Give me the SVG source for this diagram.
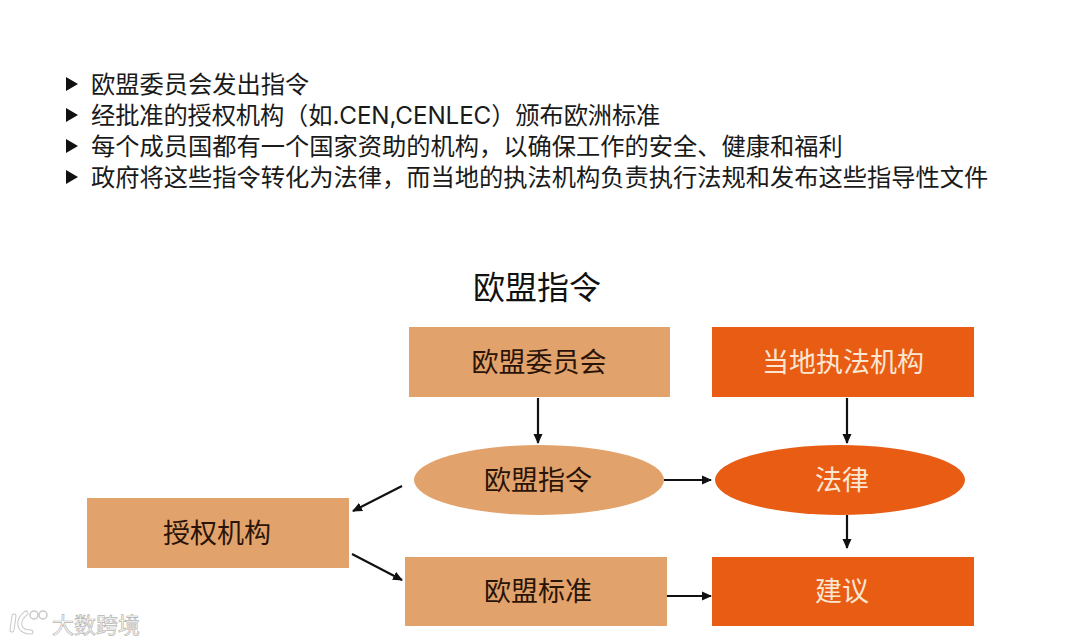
<svg xmlns="http://www.w3.org/2000/svg" width="1080" height="644" viewBox="0 0 1080 644">
<style>
text{font-family:"Noto Sans CJK SC","Noto Sans",sans-serif}
.b{font-family:Inter,"Noto Sans CJK SC",sans-serif;font-size:24.25px;fill:#1a1a1a}
.n{font-size:27px;text-anchor:middle;dominant-baseline:central}
.d{fill:#2a1408}
.l{fill:#fbe6d2}
.tan{fill:#e2a26b}
.org{fill:#e85c14}
.c{stroke:#111;stroke-width:2.2;fill:none;marker-end:url(#a)}
.w{fill:none;stroke:#c8c8c8;stroke-width:5;stroke-linecap:round}
.w2{fill:none;stroke:#fff;stroke-width:3;stroke-linecap:round}
</style>
<defs><marker id="a" markerUnits="userSpaceOnUse" markerWidth="10" markerHeight="10" refX="9" refY="5" orient="auto"><path d="M0 0.5L10 5L0 9.5Z" fill="#111"/></marker></defs>
<rect width="1080" height="644" fill="#fff"/>
<g id="bullets">
<path d="M66 77L78 84L66 91ZM66 108L78 115L66 122ZM66 139L78 146L66 153ZM66 170L78 177L66 184Z" fill="#111"/>
<text class="b" x="91" y="93">欧盟委员会发出指令</text>
<text class="b" x="91" y="124" letter-spacing="-0.11">经批准的授权机构（如.CEN,CENLEC）颁布欧洲标准</text>
<text class="b" x="91" y="155">每个成员国都有一个国家资助的机构，以确保工作的安全、健康和福利</text>
<text class="b" x="91" y="186">政府将这些指令转化为法律，而当地的执法机构负责执行法规和发布这些指导性文件</text>
</g>
<text x="537" y="285" font-size="32" text-anchor="middle" dominant-baseline="central" fill="#111">欧盟指令</text>
<g id="n-commission"><rect class="tan" x="409" y="327" width="261" height="70"/><text class="n d" x="539" y="360">欧盟委员会</text></g>
<g id="n-local"><rect class="org" x="712" y="327" width="262" height="70"/><text class="n l" x="843" y="360">当地执法机构</text></g>
<g id="n-directive"><ellipse class="tan" cx="539" cy="480" rx="125" ry="35"/><text class="n d" x="538" y="478">欧盟指令</text></g>
<g id="n-law"><ellipse class="org" cx="840" cy="480" rx="125" ry="35"/><text class="n l" x="842" y="478">法律</text></g>
<g id="n-authority"><rect class="tan" x="87" y="498" width="262" height="70"/><text class="n d" x="217" y="531">授权机构</text></g>
<g id="n-standard"><rect class="tan" x="405" y="557" width="262" height="69"/><text class="n d" x="538" y="589">欧盟标准</text></g>
<g id="n-advice"><rect class="org" x="712" y="557" width="262" height="69"/><text class="n l" x="842" y="589">建议</text></g>
<g id="connectors">
<path class="c" d="M538 398V443"/>
<path class="c" d="M847 398V443"/>
<path class="c" d="M664 480H711"/>
<path class="c" d="M847 515V548"/>
<path class="c" d="M667 596H711"/>
<path class="c" d="M402 486L353 511"/>
<path class="c" d="M352 554L402 580"/>
</g>
<g id="watermark">
<path class="w" d="M14 616L12 630M26 613C17 620 17 632 31 632"/>
<path class="w2" d="M14 616L12 630M26 613C17 620 17 632 31 632"/>
<circle cx="34" cy="615" r="4" fill="none" stroke="#c8c8c8" stroke-width="1.5"/><circle cx="43" cy="615" r="4" fill="none" stroke="#c8c8c8" stroke-width="1.5"/>
<text x="52" y="633" font-size="22" fill="#fff" stroke="#b4b4b4" stroke-width="0.7">大数跨境</text>
</g>
</svg>
